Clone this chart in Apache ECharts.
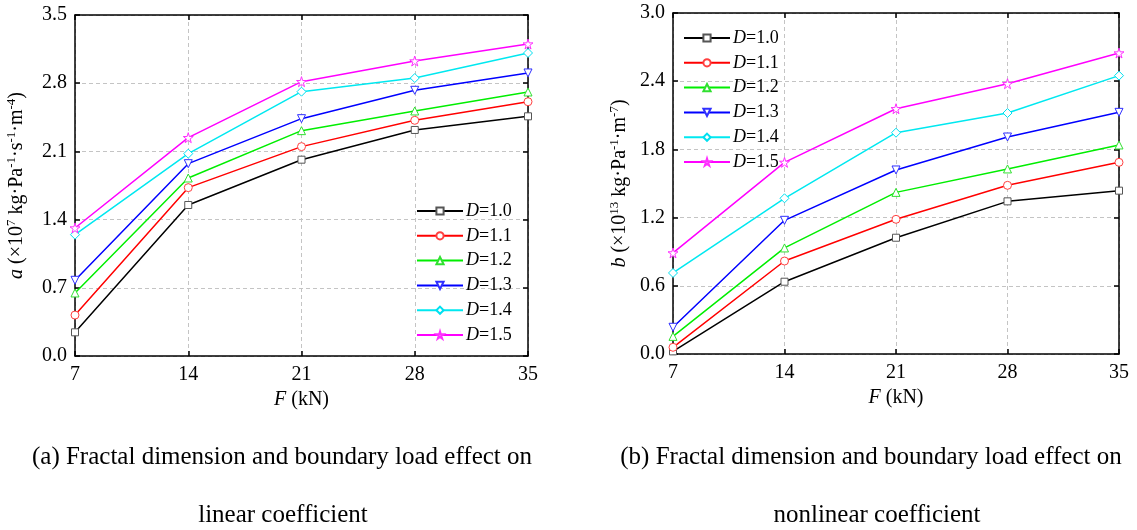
<!DOCTYPE html>
<html>
<head>
<meta charset="utf-8">
<script src="https://cdn.jsdelivr.net/npm/echarts@6/dist/echarts.min.js"></script>
<style>
html,body{margin:0;padding:0;background:#fff;}
#c{width:1137px;height:530px;}
</style>
</head>
<body>
<div id="c"></div>
<script>
// ---- data ----
var loads = [7, 14, 21, 28, 35];
var seriesNames = ['D=1.0', 'D=1.1', 'D=1.2', 'D=1.3', 'D=1.4', 'D=1.5'];

// (a) linear coefficient a (x10^7)
var aD10 = [0.243, 1.550, 2.015, 2.320, 2.460];
var aD11 = [0.420, 1.728, 2.149, 2.419, 2.610];
var aD12 = [0.647, 1.827, 2.313, 2.515, 2.710];
var aD13 = [0.777, 1.974, 2.436, 2.727, 2.905];
var aD14 = [1.245, 2.077, 2.713, 2.853, 3.110];
var aD15 = [1.314, 2.241, 2.816, 3.028, 3.202];

// (b) nonlinear coefficient b (x10^13)
var bD10 = [0.023, 0.636, 1.023, 1.343, 1.437];
var bD11 = [0.059, 0.818, 1.185, 1.484, 1.686];
var bD12 = [0.155, 0.933, 1.422, 1.628, 1.839];
var bD13 = [0.235, 1.176, 1.619, 1.909, 2.126];
var bD14 = [0.713, 1.370, 1.947, 2.120, 2.449];
var bD15 = [0.889, 1.686, 2.158, 2.378, 2.648];

var aTicks = {min: 0, max: 3.5, interval: 0.7};
var bTicks = {min: 0, max: 3.0, interval: 0.6};
var xTicks = {min: 7, max: 35, interval: 7};

var captionA1 = '(a) Fractal dimension and boundary load effect on';
var captionA2 = 'linear coefficient';
var captionB1 = '(b) Fractal dimension and boundary load effect on';
var captionB2 = 'nonlinear coefficient';

// ---- styles ----
var FONT = '"Liberation Serif", "Times New Roman", serif';
var colors = ['#000000', '#ff0000', '#00ee00', '#0000ff', '#00e8f0', '#ff00ff'];
var markerBorder = ['#555555', '#ff4040', '#30e030', '#3030ff', '#00e0f0', '#ff30ff'];
var symbols = [
  'rect',
  'circle',
  'path://M5,0L10,9L0,9Z',
  'path://M0,0L10,0L5,9Z',
  'diamond',
  'path://M50,0L61,35L98,35L68,57L79,91L50,70L21,91L32,57L2,35L39,35Z'
];
var symbolSizes = [7, 8, 8, 8, 9, 10];

var aData = [aD10, aD11, aD12, aD13, aD14, aD15];
var bData = [bD10, bD11, bD12, bD13, bD14, bD15];

function pairs(arr) {
  return loads.map(function (x, i) { return [x, arr[i]]; });
}

var series = [];
[aData, bData].forEach(function (set, gi) {
  set.forEach(function (arr, k) {
    series.push({
      type: 'line',
      name: seriesNames[k],
      xAxisIndex: gi * 2,
      yAxisIndex: gi * 2,
      data: pairs(arr),
      symbol: symbols[k],
      symbolSize: symbolSizes[k],
      showAllSymbol: true,
      lineStyle: {color: colors[k], width: 1.5},
      itemStyle: {color: '#ffffff', borderColor: markerBorder[k], borderWidth: 1},
      emphasis: {disabled: true},
      z: 3 + k,
      animation: false
    });
  });
});

var gridLine = {show: true, lineStyle: {color: '#c4c4c4', type: [4, 3], width: 1}};
var axisLine = {show: true, onZero: false, lineStyle: {color: '#000', width: 1.5}};
var tickIn = {show: true, inside: true, length: 5, lineStyle: {color: '#000', width: 1.5}};
var labelStyle = {color: '#000', fontFamily: FONT, fontSize: 20};

function xAxes(gridIndex) {
  return [
    Object.assign({
      type: 'value', gridIndex: gridIndex, position: 'bottom',
      axisLine: axisLine, axisTick: tickIn,
      axisLabel: Object.assign({margin: 9}, labelStyle),
      splitLine: gridLine,
      name: '{i|F} (kN)', nameLocation: 'middle', nameGap: 30,
      nameTextStyle: {color: '#000', fontFamily: FONT, fontSize: 20,
        rich: {i: {fontStyle: 'italic', fontFamily: FONT, fontSize: 20, color: '#000'}}}
    }, xTicks),
    Object.assign({
      type: 'value', gridIndex: gridIndex, position: 'top',
      axisLine: axisLine, axisTick: tickIn, axisLabel: {show: false},
      splitLine: {show: false}
    }, xTicks)
  ];
}

var supRich = {
  i: {fontStyle: 'italic', fontFamily: FONT, fontSize: 20, color: '#000', lineHeight: 24},
  n: {fontFamily: FONT, fontSize: 20, color: '#000', lineHeight: 24},
  s: {fontFamily: FONT, fontSize: 13, color: '#000', lineHeight: 14, verticalAlign: 'top'}
};

function yAxes(gridIndex, ticks, name, gap) {
  return [
    Object.assign({
      type: 'value', gridIndex: gridIndex, position: 'left',
      axisLine: axisLine, axisTick: tickIn,
      axisLabel: Object.assign({margin: 8, formatter: function (v) { return v.toFixed(1); }}, labelStyle),
      splitLine: gridLine,
      name: name, nameLocation: 'middle', nameGap: gap, nameRotate: 90,
      nameTextStyle: {color: '#000', fontFamily: FONT, fontSize: 20, lineHeight: 24, rich: supRich}
    }, ticks),
    Object.assign({
      type: 'value', gridIndex: gridIndex, position: 'right',
      axisLine: axisLine, axisTick: tickIn, axisLabel: {show: false},
      splitLine: {show: false}
    }, ticks)
  ];
}

function legend(left, top) {
  return {
    orient: 'vertical', left: left, top: top,
    data: seriesNames,
    itemWidth: 46, itemHeight: 9, itemGap: 6.8,
    padding: 0,
    formatter: function (name) { return '{i|D}{n|=' + name.slice(2) + '}'; },
    textStyle: {
      color: '#000', fontFamily: FONT, fontSize: 18, lineHeight: 18, padding: [0, 0, 0, -2],
      rich: {
        i: {fontStyle: 'italic', fontFamily: FONT, fontSize: 18, color: '#000', lineHeight: 18},
        n: {fontFamily: FONT, fontSize: 18, color: '#000', lineHeight: 18}
      }
    },
    selectedMode: false
  };
}

var nameA = '{i|a}{n| (×10}{s|7}{n| kg·Pa}{s|-1}{n|·s}{s|-1}{n|·m}{s|-4}{n|)}';
var nameB = '{i|b}{n| (×10}{s|13}{n| kg·Pa}{s|-1}{n|·m}{s|-7}{n|)}';

function caption(text, x, y) {
  return {
    type: 'text', x: x, y: y,
    style: {text: text, fill: '#000', font: '25px ' + FONT, align: 'center', verticalAlign: 'middle'}
  };
}

var option = {
  backgroundColor: '#fff',
  animation: false,
  grid: [
    {left: 75, top: 15, width: 453, height: 341, containLabel: false},
    {left: 673, top: 13, width: 446, height: 341, containLabel: false}
  ],
  xAxis: xAxes(0).concat(xAxes(1)),
  yAxis: yAxes(0, aTicks, nameA, 46).concat(yAxes(1, bTicks, nameB, 41)),
  legend: [legend(416, 202), legend(683, 29)],
  series: series,
  graphic: [
    caption(captionA1, 282, 457),
    caption(captionA2, 283, 515),
    caption(captionB1, 871, 457),
    caption(captionB2, 877, 515)
  ]
};

var chart = echarts.init(document.getElementById('c'), null, {renderer: 'canvas'});
chart.setOption(option);
</script>
</body>
</html>
